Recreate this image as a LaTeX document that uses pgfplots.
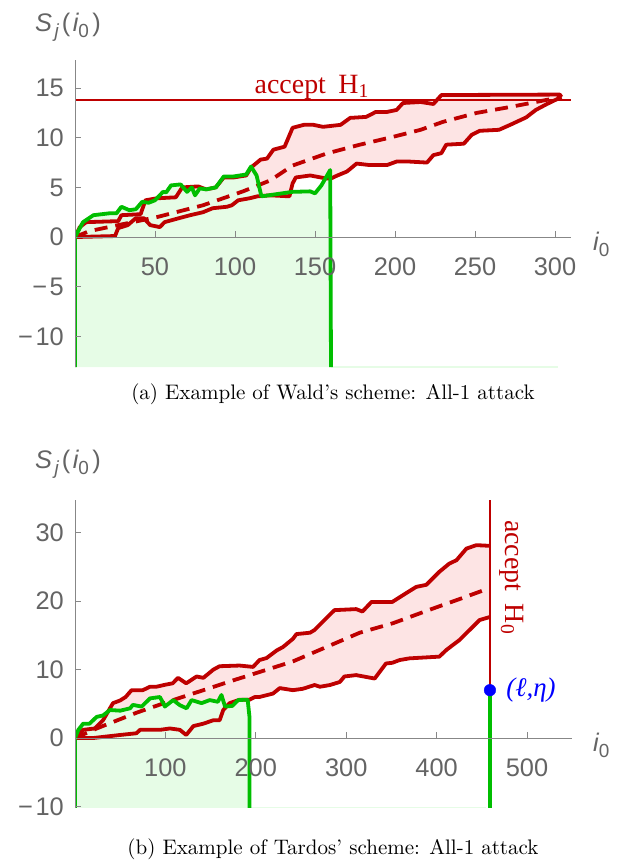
\documentclass[border=0pt]{standalone}
\usepackage{fontspec}
\newfontfamily\sansf{Liberation Sans}
\newfontfamily\timesf{Liberation Serif}
\usepackage{pgfplots}
\usepackage{pgfplotstable}
\pgfplotsset{compat=1.18}
\usepgfplotslibrary{fillbetween}

\definecolor{redc}{RGB}{190,0,0}
\definecolor{pinkf}{RGB}{253,228,228}
\definecolor{greenc}{RGB}{0,190,0}
\definecolor{greenf}{RGB}{230,252,230}
\definecolor{axgray}{RGB}{135,135,135}
\definecolor{txgray}{RGB}{100,100,100}

% ---- (a) Wald's scheme ----
\pgfplotstableread{
x y
0 0
3 1.0
7 1.5
27 1.6
29 2.2
41 2.3
44 3.7
51 3.9
63 4.0
67 5.0
77 5.1
82 4.8
88 5.0
93 6.0
99 6.0
107 6.2
110 7.0
116 7.8
120 7.9
124 8.8
131 9.1
136 11.0
143 11.3
149 11.3
155 11.1
166 11.3
172 12.0
182 12.1
188 12.6
195 12.6
201 12.8
205 13.5
216 13.6
224 13.4
229 14.3
303 14.35
304 14.1
}\upA
\pgfplotstableread{
x y
0 0
25 0.1
27 0.9
33 1.2
38 1.9
43 1.9
47 1.2
53 1.0
56 1.5
65 1.9
72 2.2
80 2.5
86 2.9
95 3.05
98 3.2
102 3.7
109 3.9
114 4.1
122 4.2
134 4.1
136 5.4
138 6.0
147 6.2
157 5.9
160 5.9
164 6.2
170 6.6
176 7.4
184 7.25
195 7.25
201 7.6
209 7.6
220 7.5
224 8.25
229 8.45
232 9.3
243 9.4
248 10.3
253 10.7
265 10.8
272 11.3
282 12.05
288 12.8
295 13.4
304 14.1
}\loA
\pgfplotstableread{
x y
0 0
9 0.6
30 1.3
51 2.0
80 3.2
105 4.6
122 5.7
136 7.2
157 8.4
178 9.3
199 10.1
216 10.8
230 11.6
251 12.5
272 13.1
288 13.6
304 14.1
}\meanA
\pgfplotstableread{
x y
0 -13.1
0 0
5 1.5
11.5 2.2
22 2.4
26 2.4
29 3.05
34 2.7
38 2.8
42 3.55
46 3.45
50 3.7
55 4.55
57 4.5
60 5.2
66 5.3
70 4.55
73 5.0
75 4.2
78 4.9
82 4.8
88 5.0
93 6.1
99 6.1
107 6.3
110 7.1
113.5 6.2
116.5 4.1
136 4.55
147 4.6
150 4.4
154 5.2
159.5 6.75
160 -13.1
}\grA

% ---- (b) Tardos' scheme ----
\pgfplotstableread{
x y
0 0
9 1.2
22 1.4
31 2.6
42 5.1
50 5.5
56 6.0
62.6 7.0
75 7.0
83 7.5
90 7.5
100 7.8
108 8.0
114 8.8
123 8.0
134.5 9.0
142 8.8
153 10.0
160 10.5
182 10.6
197 10.4
204 11.4
212 11.7
223 12.8
230 13.3
241 14.5
245 15.2
260 15.4
265 15.8
274 17.0
287 18.7
311 18.85
318 18.5
328 19.9
351 19.9
366.5 21.2
377.5 22.1
388.6 22.4
403 24.3
414 25.5
422 26.0
433 27.7
444 28.2
459 28.1
}\upB
\pgfplotstableread{
x y
0 0
20 0
50 0.45
68 0.7
72 1.2
94 1.2
105 1.4
116 1.2
123 0.45
131 1.75
142 2.1
153 2.6
160 2.6
164 4.1
171 5.1
182 5.6
193 5.6
199 6.0
204 6.0
219 6.5
226.5 7.3
241 7.0
252 7.2
265 7.75
271 7.5
282 7.75
293 8.2
298 9.0
311 9.2
331.5 8.7
344 10.9
351 11.0
359 11.4
370 11.65
403 11.9
411 12.9
425 14.3
436.5 15.8
447.5 17.25
459 17.7
}\loB
\pgfplotstableread{
x y
0 0
24 1.4
68 3.7
105 5.4
142 7.0
179 8.6
210 9.9
241 11.2
278 13.3
315 15.4
352 16.8
389 18.6
425 20.3
454 21.7
}\meanB
\pgfplotstableread{
x y
0 -10.2
0 0
3.7 1.2
9 2.1
16 2.1
24 3.1
31 3.3
38.7 4.1
50 4.0
61 4.35
64 4.85
73.7 4.6
83 5.8
94 6.0
99.4 4.6
108.6 5.55
116 4.8
123.4 4.35
129 5.55
140 5.1
149 5.55
158 5.3
162 6.3
166 4.6
174 4.7
180.5 5.55
188 5.6
191 5.6
193 3.1
193 -10.2
}\grB

\pgfplotsset{
  mma/.style={
    scale only axis,
    axis on top,
    axis x line=middle, axis y line=left,
    axis line style={-, draw=axgray, line width=0.8bp},
    tick style={draw=axgray, line width=0.8bp},
    major tick length=6bp,
    tick align=inside,
    /pgf/number format/assume math mode=true,
    ticklabel style={text=txgray, font=\sansf\fontsize{25.5}{25.5}\selectfont, inner sep=0pt},
    xticklabel style={anchor=base, yshift=-38bp},
    yticklabel style={anchor=east, xshift=-11bp},
  },
  redl/.style={draw=redc, line width=3.8bp, line join=round},
  greenl/.style={draw=greenc, line width=3.8bp, line join=round},
}

\begin{document}
\begin{tikzpicture}
\path (0,0) rectangle (630bp,-865bp);

\begin{axis}[mma,
  at={(75bp,-367.1bp)}, anchor=south west,
  width=496bp, height=306.8bp,
  xmin=0, xmax=310, ymin=-13.1, ymax=17.8,
  xtick={50,100,...,300},
  ytick={-10,-5,0,5,10,15},
  yticklabels={−\kern2.5bp10,−\kern2.5bp5,0,5,10,15},
]
\addplot[draw=none, name path=upa] table {\upA};
\addplot[draw=none, name path=loa] table {\loA};
\addplot[pinkf] fill between[of=upa and loa];
\addplot[fill=greenf, draw=none] table {\grA} -- cycle;
\addplot[draw=greenf, line width=1.5bp] coordinates {(160,-13.1) (302,-13.1)};
\addplot[draw=redc, line width=2bp] coordinates {(0,13.8) (310,13.8)};
\addplot[redl] table {\upA};
\addplot[redl] table {\loA};
\addplot[redl, dash pattern=on 13bp off 8bp] table {\meanA};
\addplot[greenl] table {\grA};
\node[anchor=base, text=redc, inner sep=0, font=\timesf\fontsize{28}{28}\selectfont]
  at (axis cs:148,14.5) {accept\hspace{0.45em}H\textsubscript{1}};
\end{axis}

\begin{axis}[mma,
  at={(75bp,-807.8bp)}, anchor=south west,
  width=497.2bp, height=307.8bp,
  xmin=0, xmax=550, ymin=-10.2, ymax=34.8,
  xtick={100,200,...,500},
  ytick={-10,0,10,20,30},
  yticklabels={−\kern2.5bp10,0,10,20,30},
]
\addplot[draw=none, name path=upb] table {\upB};
\addplot[draw=none, name path=lob] table {\loB};
\addplot[pinkf] fill between[of=upb and lob];
\addplot[fill=greenf, draw=none] table {\grB} -- cycle;
\addplot[draw=greenf, line width=1.5bp] coordinates {(193,-10.2) (455,-10.2)};
\addplot[redl] table {\upB};
\addplot[redl] table {\loB};
\addplot[redl, dash pattern=on 13bp off 8bp] table {\meanB};
\addplot[greenl] table {\grB};
\addplot[draw=redc, line width=2bp] coordinates {(459,7) (459,34.8)};
\addplot[greenl] coordinates {(459,-10.2) (459,7)};
\addplot[only marks, mark=*, mark size=5.8bp, color=blue] coordinates {(459,7)};
\node[anchor=west, text=blue, inner sep=0, font=\timesf\itshape\fontsize{27}{27}\selectfont]
  at (axis cs:477,7) {(ℓ,η)};
\node[rotate=-90, text=redc, inner sep=0, font=\timesf\fontsize{28}{28}\selectfont]
  at (axis cs:483,23.5) {accept\hspace{0.45em}H\textsubscript{0}};
\end{axis}

% axis labels
\foreach \yb/\yi in {31.7/250, 468/751.7} {
  \node[anchor=base west, inner sep=0, text=txgray, font=\sansf\fontsize{25.5}{25.5}\selectfont]
    at (35bp,-\yb bp) {\itshape S\kern2.5bp\raisebox{-6bp}{\fontsize{19}{19}\selectfont j}\kern3bp\upshape(\kern2.5bp\itshape i\raisebox{-6bp}{\upshape\fontsize{19}{19}\selectfont 0}\kern3.5bp\upshape)};
  \node[anchor=base west, inner sep=0, text=txgray, font=\sansf\fontsize{25.5}{25.5}\selectfont]
    at (593bp,-\yi bp) {\itshape i\raisebox{-6bp}{\upshape\fontsize{19}{19}\selectfont 0}};
}
% captions
\node[anchor=base, scale=2.11, inner sep=0] at (333bp,-399bp) {(a) Example of Wald's scheme: All-1 attack};
\node[anchor=base, scale=2.11, inner sep=0] at (333bp,-854bp) {(b) Example of Tardos' scheme: All-1 attack};
\end{tikzpicture}
\end{document}
